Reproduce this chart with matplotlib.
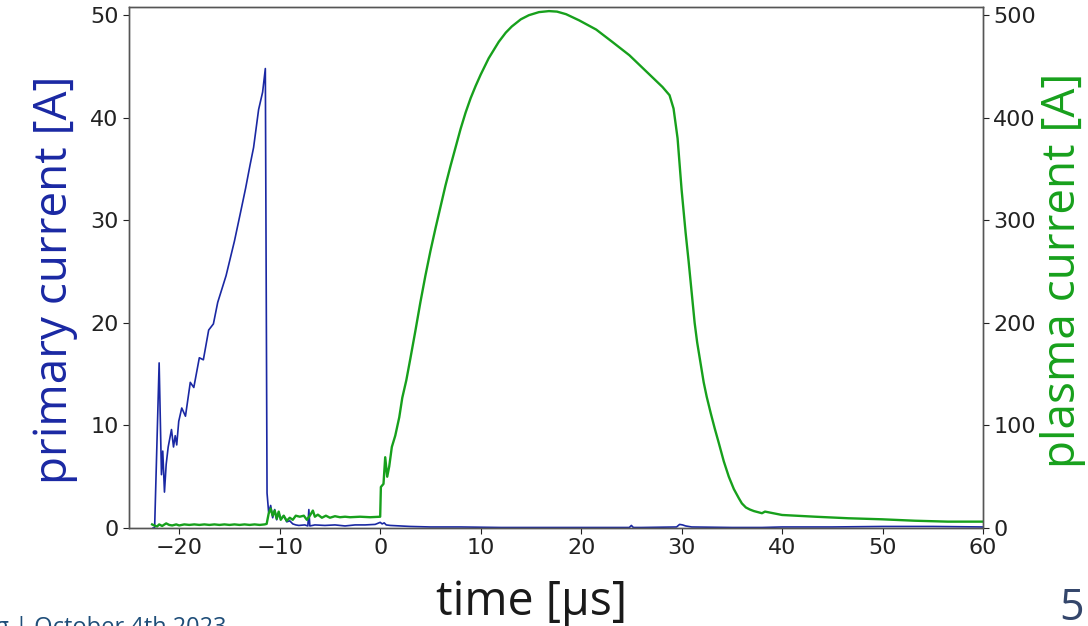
import numpy as np
from matplotlib import pyplot as plt

# primary current (left axis) [A] vs time [us]
t_prim = [-22.6, -22.45, -22.0, -21.77, -21.64, -21.47, -21.3, -21.1, -20.77, -20.57,
          -20.4, -20.25, -20.05, -19.75, -19.38, -18.9, -18.55, -18.0, -17.6, -17.07,
          -16.6, -16.17, -15.34, -14.5, -13.85, -13.4, -12.95, -12.6, -12.1, -11.7,
          -11.43, -11.26, -11.1, -10.9, -10.7, -10.5, -10.3, -10.1, -9.9, -9.6,
          -9.3, -9.0, -8.7, -8.4, -8.1, -7.5, -7.2, -7.1, -7.0, -6.5,
          -5.5, -4.5, -3.5, -2.5, -1.5, -0.5, 0.0, 0.2, 0.4, 0.6,
          1.0, 2.0, 3.0, 5.0, 8.0, 12.0, 16.0, 20.0, 24.8, 25.0,
          25.2, 26.0, 29.5, 29.8, 30.1, 30.4, 31.0, 35.0, 38.0, 40.0,
          45.0, 50.0, 55.0, 60.0]
i_prim = [0.0, 0.0, 16.1, 5.2, 7.5, 3.5, 6.2, 7.9, 9.6, 7.9,
          9.0, 8.1, 10.4, 11.7, 10.9, 14.2, 13.7, 16.6, 16.4, 19.3,
          19.9, 22.0, 24.6, 28.0, 31.0, 33.1, 35.4, 37.1, 40.8, 42.5,
          44.8, 3.4, 1.5, 2.2, 1.0, 1.8, 0.8, 1.5, 0.9, 1.2,
          0.6, 0.7, 0.4, 0.3, 0.25, 0.3, 0.2, 1.8, 0.2, 0.3,
          0.25, 0.3, 0.2, 0.3, 0.3, 0.35, 0.55, 0.4, 0.5, 0.3,
          0.25, 0.2, 0.15, 0.1, 0.1, 0.05, 0.05, 0.05, 0.05, 0.25,
          0.05, 0.05, 0.1, 0.35, 0.3, 0.2, 0.1, 0.05, 0.05, 0.1,
          0.1, 0.15, 0.15, 0.1]

# plasma current (right axis) [A]
t_plas = [-22.7, -22.5, -22.2, -22.0, -21.7, -21.3, -21.0, -20.7, -20.3, -20.0,
          -19.5, -19.0, -18.5, -18.0, -17.5, -17.0, -16.5, -16.0, -15.5, -15.0,
          -14.5, -14.0, -13.5, -13.0, -12.5, -12.0, -11.5, -11.3, -11.1, -10.9,
          -10.7, -10.5, -10.3, -10.1, -9.9, -9.6, -9.3, -9.0, -8.7, -8.4,
          -8.0, -7.6, -7.3, -7.0, -6.7, -6.5, -6.2, -5.8, -5.4, -5.0,
          -4.5, -4.0, -3.5, -3.0, -2.0, -1.0, -0.1, 0.0, 0.07, 0.33,
          0.5, 0.7, 0.9, 1.16, 1.5, 1.9, 2.2, 2.6, 3.0, 3.5,
          4.0, 4.5, 5.0, 5.5, 6.0, 6.5, 7.0, 7.5, 8.0, 8.5,
          9.0, 9.5, 10.0, 10.8, 11.8, 12.5, 13.1, 14.0, 14.8, 15.8,
          16.8, 17.6, 18.5, 19.8, 21.5, 23.1, 24.8, 26.4, 28.1, 28.8,
          29.2, 29.6, 30.0, 30.4, 30.7, 31.06, 31.3, 31.55, 31.9, 32.2,
          32.5, 32.9, 33.3, 33.7, 34.2, 34.7, 35.2, 35.7, 36.0, 36.4,
          36.8, 37.2, 38.0, 38.3, 40.0, 43.3, 46.6, 49.9, 53.2, 56.5,
          60.0]
i_plas = [3.5, 2.5, 1.5, 3.5, 2.0, 4.5, 3.0, 2.5, 3.5, 2.5,
          3.5, 3.0, 3.5, 3.0, 3.5, 3.0, 3.5, 3.0, 3.5, 3.0,
          3.5, 3.0, 3.5, 3.0, 3.5, 3.0, 3.5, 4.0, 14.0, 19.0,
          12.0, 17.0, 9.0, 16.0, 8.0, 12.0, 7.0, 10.0, 8.0, 12.0,
          11.0, 12.0, 8.0, 12.0, 17.0, 11.0, 13.0, 10.0, 12.0, 10.0,
          11.5, 10.5, 11.0, 10.5, 11.0, 10.5, 11.0, 11.0, 40.0, 43.0,
          69.0, 50.0, 60.0, 79.0, 90.0, 108.0, 127.0, 144.0, 165.0, 192.0,
          220.0, 246.0, 270.0, 292.0, 313.0, 334.0, 353.0, 371.0, 389.0, 405.0,
          419.0, 431.0, 442.0, 458.0, 474.0, 483.0, 489.0, 496.0, 500.0, 503.0,
          504.0, 503.5, 501.0, 495.0, 486.0, 474.0, 461.0, 446.0, 430.0, 422.0,
          409.0, 380.0, 330.0, 288.0, 260.0, 224.0, 200.0, 181.0, 160.0, 142.0,
          128.0, 112.0, 97.0, 83.0, 65.0, 50.0, 38.0, 29.0, 24.0, 20.0,
          18.0, 16.5, 14.4, 16.0, 12.7, 11.0, 9.5, 8.5, 7.1, 6.2,
          6.2]

blue = '#1a28a3'
green = '#17a01c'
lab_font = 'Open Sans'

fig = plt.figure(figsize=(10.88, 6.26), dpi=100)
ax = fig.add_axes([129/1088, 1 - 528/626, 854/1088, 521/626])
ax2 = ax.twinx()

ax.plot(t_prim, i_prim, color=blue, lw=1.2)
ax2.plot(t_plas, i_plas, color=green, lw=1.7)

ax.set_xlim(-25, 60)
ax.set_ylim(0, 50.8)
ax2.set_ylim(0, 508)
ax.set_xticks([-20, -10, 0, 10, 20, 30, 40, 50, 60])
ax.set_yticks([0, 10, 20, 30, 40, 50])
ax2.set_yticks([0, 100, 200, 300, 400, 500])

for a in (ax, ax2):
    a.tick_params(labelsize=16, colors='#222222', length=4)
    for s in a.spines.values():
        s.set_color('#555555')
        s.set_linewidth(1.0)

# slide-style labels
fig.text(55/1088, 1 - 280/626, 'primary current [A]', rotation=90, color=blue,
         fontsize=33, family=lab_font, ha='center', va='center')
fig.text(1063/1088, 1 - 270/626, 'plasma current [A]', rotation=90, color=green,
         fontsize=33, family=lab_font, ha='center', va='center')
fig.text(532/1088, 1 - 615/626, 'time [µs]', color='#1a1a1a', fontsize=33.5,
         family=lab_font, ha='center', va='baseline')

# footer pieces of the slide
fig.text(-0.004, 1 - 634/626, 'g | October 4th 2023', color='#1f4e79', fontsize=17,
         family=lab_font, ha='left', va='baseline')
fig.text(1072/1088, 1 - 620/626, '5', color='#34466b', fontsize=31,
         family=lab_font, ha='center', va='baseline')

fig.savefig('out.png', dpi=100)
